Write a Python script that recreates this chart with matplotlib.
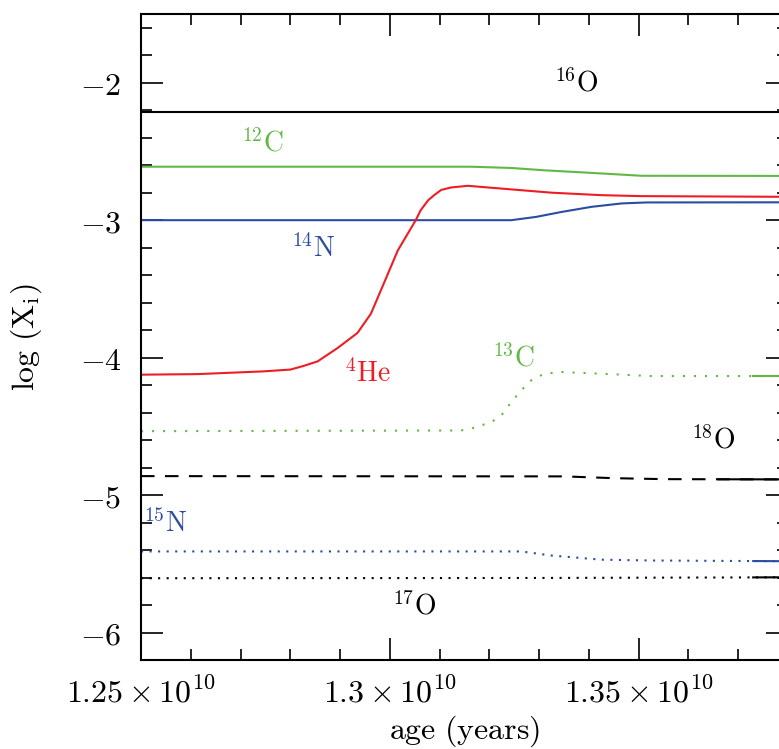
import numpy as np
import matplotlib
matplotlib.use('Agg')
import matplotlib.pyplot as plt
import matplotlib.ticker as ticker

plt.rcParams['mathtext.fontset'] = 'cm'
plt.rcParams['font.family'] = 'DejaVu Serif'

GREEN = '#62b846'
BLUE = '#2b4ca3'
RED = '#ee1c25'

# age in units of 1e10 yr, abundances as log10 mass fraction
age_o16 = [1.25, 1.38]
o16 = [-2.21, -2.21]

age_c12 = [1.25, 1.3163, 1.3244, 1.3310, 1.3425, 1.3506, 1.38]
c12 = [-2.611, -2.611, -2.620, -2.637, -2.660, -2.677, -2.678]

age_n14 = [1.25, 1.3244, 1.3294, 1.3345, 1.3405, 1.3466, 1.3516, 1.38]
n14 = [-3.0, -3.0, -2.976, -2.94, -2.903, -2.878, -2.871, -2.87]

age_he4 = [1.25, 1.2613, 1.2746, 1.2800, 1.2827, 1.2855, 1.2895, 1.2935,
           1.2962, 1.2982, 1.3016, 1.3052, 1.3062, 1.3077, 1.3089, 1.3103,
           1.3123, 1.3157, 1.3224, 1.3325, 1.3425, 1.3506, 1.38]
he4 = [-4.124, -4.120, -4.100, -4.087, -4.060, -4.027, -3.930, -3.820,
       -3.680, -3.510, -3.220, -3.000, -2.927, -2.855, -2.818, -2.780,
       -2.762, -2.750, -2.770, -2.800, -2.818, -2.825, -2.830]

age_c13 = [1.25, 1.3143, 1.3163, 1.3204, 1.3224, 1.3244, 1.3264, 1.3284,
           1.3310, 1.3345, 1.3425, 1.3526, 1.373, 1.38]
c13 = [-4.535, -4.530, -4.517, -4.469, -4.420, -4.323, -4.238, -4.165,
       -4.117, -4.105, -4.117, -4.134, -4.134, -4.134]

age_o18 = [1.25, 1.335, 1.345, 1.355, 1.366, 1.38]
o18 = [-4.862, -4.864, -4.877, -4.884, -4.885, -4.886]

age_n15 = [1.25, 1.3264, 1.3325, 1.3425, 1.3526, 1.373, 1.38]
n15 = [-5.41, -5.41, -5.44, -5.47, -5.476, -5.480, -5.481]

age_o17 = [1.25, 1.33, 1.373, 1.38]
o17 = [-5.605, -5.603, -5.599, -5.598]

# species labels: mass number, element, age, log X, colour
labels = [
    ('16', 'O', 1.3375, -2.0, 'black'),
    ('12', 'C', 1.2744, -2.44, GREEN),
    ('14', 'N', 1.2847, -3.205, BLUE),
    ('4', 'He', 1.2956, -4.12, RED),
    ('13', 'C', 1.3248, -4.005, GREEN),
    ('18', 'O', 1.3649, -4.60, 'black'),
    ('15', 'N', 1.2548, -5.21, BLUE),
    ('17', 'O', 1.3048, -5.805, 'black'),
]


def yr(a):
    return np.asarray(a) * 1e10


def tail(a, v, start):
    a = np.asarray(a)
    v = np.asarray(v)
    m = a >= start
    return yr(a[m]), v[m]


fig = plt.figure(figsize=(7.79, 7.49), dpi=100)
ax = fig.add_axes([0.181, 0.1188, 0.8306, 0.8625])

lw = 1.5
ax.plot(yr(age_o16), o16, color='black', lw=lw)
ax.plot(yr(age_c12), c12, color=GREEN, lw=lw)
ax.plot(yr(age_n14), n14, color=BLUE, lw=lw)
ax.plot(yr(age_he4), he4, color=RED, lw=lw)
ax.plot(yr(age_c13), c13, color=GREEN, lw=lw, ls=(0, (1, 4.3)))
ax.plot(yr(age_o18), o18, color='black', lw=lw, ls=(0, (6.5, 5)))
ax.plot(yr(age_n15), n15, color=BLUE, lw=lw, ls=(0, (1, 3.1)))
ax.plot(yr(age_o17), o17, color='black', lw=lw, ls=(0, (1, 3.1)))

# closely spaced points near the end merge into a solid line
for a, v, c, s in [(age_c13, c13, GREEN, 1.373), (age_n15, n15, BLUE, 1.373),
                   (age_o17, o17, 'black', 1.373), (age_o18, o18, 'black', 1.366)]:
    ta, tv = tail(a, v, s)
    ax.plot(ta, tv, color=c, lw=lw)

for iso, el, x, y, c in labels:
    ax.text(yr(x), y, r'${}^{%s}\mathrm{%s}$' % (iso, el), color=c,
            fontsize=20, ha='center', va='center')

ax.set_xlim(1.25e10, 1.38e10)
ax.set_ylim(-6.2, -1.5)

ax.xaxis.set_major_locator(ticker.MultipleLocator(0.05e10))
ax.xaxis.set_minor_locator(ticker.MultipleLocator(0.01e10))
ax.yaxis.set_major_locator(ticker.MultipleLocator(1))
ax.yaxis.set_minor_locator(ticker.MultipleLocator(0.2))


def fmt_age(x, _):
    m = round(x / 1e10, 2)
    s = ('%.2f' % m).rstrip('0')
    return r'$%s\times10^{10}$' % s


ax.xaxis.set_major_formatter(ticker.FuncFormatter(fmt_age))
ax.yaxis.set_major_formatter(ticker.FuncFormatter(lambda y, _: r'$%d$' % y))

ax.tick_params(which='both', direction='in', top=True, right=True,
               width=1.2, labelsize=23)
ax.tick_params(which='major', length=16)
ax.tick_params(which='minor', length=8)
ax.tick_params(axis='x', which='major', pad=13)
ax.tick_params(axis='y', which='major', pad=14)
for sp in ax.spines.values():
    sp.set_linewidth(1.5)

ax.set_xlabel(r'$\mathrm{age\ (years)}$', fontsize=23)
ax.set_ylabel(r'$\mathrm{log\ (X_i)}$', fontsize=23)
ax.xaxis.set_label_coords(0.5, -0.083)
ax.yaxis.set_label_coords(-0.15, 0.5)

fig.savefig('out.png', dpi=100)
